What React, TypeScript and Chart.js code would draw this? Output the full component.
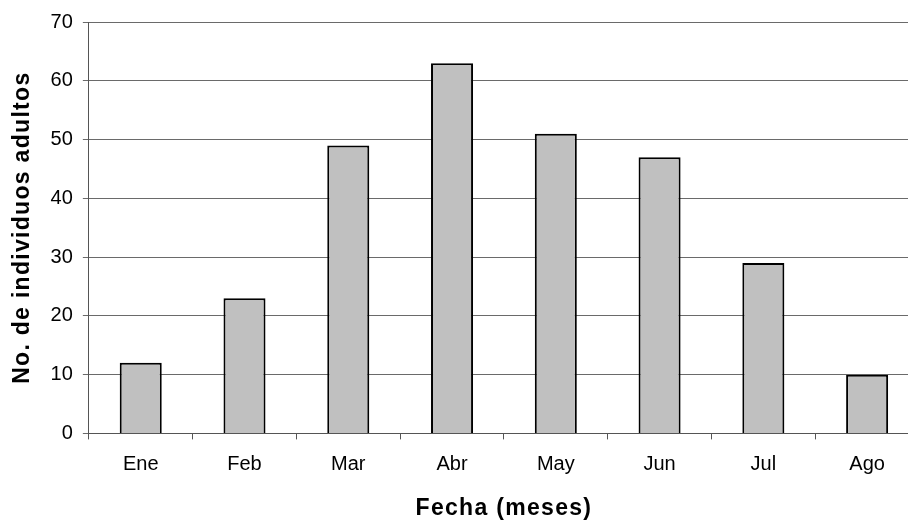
import React, { useEffect, useRef } from "react";
import { Chart, registerables } from "chart.js";

Chart.register(...registerables);

const categories = ["Ene", "Feb", "Mar", "Abr", "May", "Jun", "Jul", "Ago"];
const adults = [12, 23, 49, 63, 51, 47, 29, 10];
const yTicks = [0, 10, 20, 30, 40, 50, 60, 70];

const titleSpacing = {
  id: "titleSpacing",
  beforeDraw(chart: any) {
    Object.values(chart.scales).forEach((scale: any) => {
      if (scale.__patched) return;
      const orig = scale.drawTitle.bind(scale);
      scale.drawTitle = function () {
        const ctx = this.ctx;
        ctx.save();
        try {
          (ctx as any).letterSpacing = "1.3px";
        } catch (e) {}
        orig();
        ctx.restore();
      };
      scale.__patched = true;
    });
  },
};

export default function App() {
  const ref = useRef<HTMLCanvasElement | null>(null);
  useEffect(() => {
    document.body.style.margin = "0";
    document.body.style.overflow = "hidden";
    if (!ref.current) return;
    const font = "'Liberation Sans', Arial, sans-serif";
    const chart = new Chart(ref.current, {
      type: "bar",
      data: {
        labels: categories,
        datasets: [
          {
            data: adults,
            backgroundColor: "#c0c0c0",
            borderColor: "#000000",
            borderWidth: 2,
            categoryPercentage: 0.81,
            barPercentage: 0.5,
          },
        ],
      },
      plugins: [titleSpacing],
      options: {
        animation: false,
        responsive: false,
        maintainAspectRatio: false,
        layout: { padding: { top: 22, right: 0, bottom: 0, left: 0 } },
        plugins: { legend: { display: false }, tooltip: { enabled: false } },
        scales: {
          x: {
            grid: {
              offset: true,
              drawOnChartArea: false,
              drawTicks: true,
              tickLength: 6,
              color: "#555555",
            },
            border: { color: "#555555", width: 1 },
            ticks: {
              color: "#000",
              font: { family: font, size: 20 },
              padding: 13,
              maxRotation: 0,
            },
            title: {
              display: true,
              text: "Fecha (meses)",
              color: "#000",
              font: { family: font, size: 23, weight: "bold" },
              padding: { top: 5, bottom: 1 },
            },
          },
          y: {
            min: 0,
            max: 70,
            afterBuildTicks: (axis: any) => {
              axis.ticks = yTicks.map((v) => ({ value: v }));
            },
            grid: {
              color: "#6a6a6a",
              lineWidth: 1,
              drawTicks: true,
              tickLength: 6,
            },
            border: { color: "#555555", width: 1 },
            ticks: {
              color: "#000",
              font: { family: font, size: 20 },
              padding: 10,
            },
            title: {
              display: true,
              text: "No. de individuos adultos",
              color: "#000",
              font: { family: font, size: 23, weight: "bold" },
              padding: { top: 9, bottom: 4 },
            },
          },
        },
      },
    });
    return () => chart.destroy();
  }, []);
  return (
    <div style={{ width: 908, height: 523, overflow: "hidden" }}>
      <canvas ref={ref} width={919} height={523} style={{ display: "block" }} />
    </div>
  );
}
